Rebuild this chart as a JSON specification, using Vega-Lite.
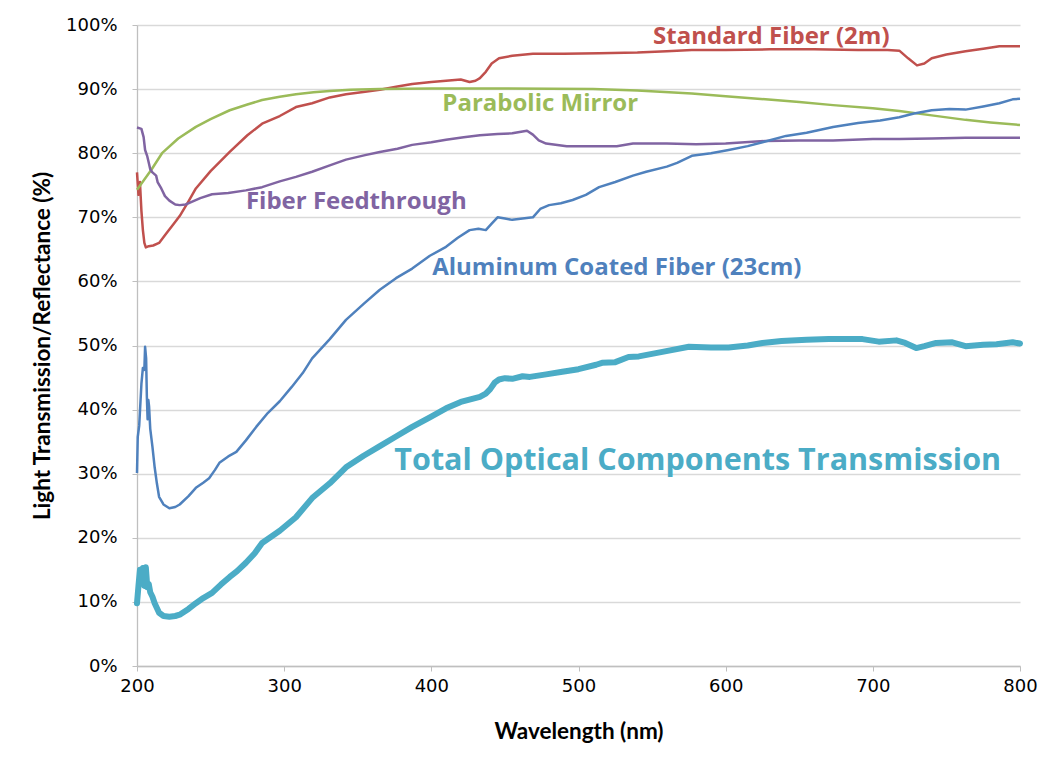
{
  "$schema": "https://vega.github.io/schema/vega-lite/v6.json",
  "width": 883,
  "height": 641,
  "autosize": "none",
  "padding": {"left": 137, "top": 25, "right": 30, "bottom": 99},
  "background": "white",
  "config": {
    "view": {"stroke": null},
    "axis": {
      "labelFont": "DejaVu Sans",
      "labelFontSize": 18,
      "labelColor": "#000000",
      "labelFlush": false,
      "domainColor": "#BFBFBF",
      "tickColor": "#BFBFBF",
      "gridColor": "#D9D9D9",
      "gridWidth": 1.3,
      "domainWidth": 1.3,
      "tickSize": 5,
      "titleFont": "Lato",
      "titleFontWeight": "bold",
      "titleFontSize": 22.5,
      "titleColor": "#000000"
    }
  },
  "datasets": {
    "curves": [
      {"series": "Standard Fiber (2m)", "nm": 200, "pct": 77.0},
      {"series": "Standard Fiber (2m)", "nm": 201, "pct": 73.5},
      {"series": "Standard Fiber (2m)", "nm": 202, "pct": 75.5},
      {"series": "Standard Fiber (2m)", "nm": 203, "pct": 71.0},
      {"series": "Standard Fiber (2m)", "nm": 204, "pct": 68.0},
      {"series": "Standard Fiber (2m)", "nm": 205, "pct": 66.0},
      {"series": "Standard Fiber (2m)", "nm": 206, "pct": 65.3},
      {"series": "Standard Fiber (2m)", "nm": 208, "pct": 65.5},
      {"series": "Standard Fiber (2m)", "nm": 211, "pct": 65.6},
      {"series": "Standard Fiber (2m)", "nm": 215, "pct": 66.0},
      {"series": "Standard Fiber (2m)", "nm": 220, "pct": 67.5},
      {"series": "Standard Fiber (2m)", "nm": 225, "pct": 69.0},
      {"series": "Standard Fiber (2m)", "nm": 229, "pct": 70.2},
      {"series": "Standard Fiber (2m)", "nm": 235, "pct": 72.5},
      {"series": "Standard Fiber (2m)", "nm": 240, "pct": 74.5},
      {"series": "Standard Fiber (2m)", "nm": 250, "pct": 77.2},
      {"series": "Standard Fiber (2m)", "nm": 263, "pct": 80.2},
      {"series": "Standard Fiber (2m)", "nm": 275, "pct": 82.8},
      {"series": "Standard Fiber (2m)", "nm": 285, "pct": 84.6},
      {"series": "Standard Fiber (2m)", "nm": 297, "pct": 85.8},
      {"series": "Standard Fiber (2m)", "nm": 308, "pct": 87.2},
      {"series": "Standard Fiber (2m)", "nm": 319, "pct": 87.8},
      {"series": "Standard Fiber (2m)", "nm": 331, "pct": 88.7},
      {"series": "Standard Fiber (2m)", "nm": 342, "pct": 89.2},
      {"series": "Standard Fiber (2m)", "nm": 355, "pct": 89.6},
      {"series": "Standard Fiber (2m)", "nm": 365, "pct": 89.9},
      {"series": "Standard Fiber (2m)", "nm": 377, "pct": 90.4},
      {"series": "Standard Fiber (2m)", "nm": 387, "pct": 90.8},
      {"series": "Standard Fiber (2m)", "nm": 400, "pct": 91.1},
      {"series": "Standard Fiber (2m)", "nm": 410, "pct": 91.3},
      {"series": "Standard Fiber (2m)", "nm": 420, "pct": 91.5},
      {"series": "Standard Fiber (2m)", "nm": 426, "pct": 91.1},
      {"series": "Standard Fiber (2m)", "nm": 430, "pct": 91.3},
      {"series": "Standard Fiber (2m)", "nm": 433, "pct": 91.7},
      {"series": "Standard Fiber (2m)", "nm": 437, "pct": 92.7},
      {"series": "Standard Fiber (2m)", "nm": 441, "pct": 94.0},
      {"series": "Standard Fiber (2m)", "nm": 446, "pct": 94.8},
      {"series": "Standard Fiber (2m)", "nm": 455, "pct": 95.2},
      {"series": "Standard Fiber (2m)", "nm": 469, "pct": 95.5},
      {"series": "Standard Fiber (2m)", "nm": 490, "pct": 95.5},
      {"series": "Standard Fiber (2m)", "nm": 514, "pct": 95.6},
      {"series": "Standard Fiber (2m)", "nm": 540, "pct": 95.7},
      {"series": "Standard Fiber (2m)", "nm": 560, "pct": 95.9},
      {"series": "Standard Fiber (2m)", "nm": 577, "pct": 96.1},
      {"series": "Standard Fiber (2m)", "nm": 600, "pct": 96.1},
      {"series": "Standard Fiber (2m)", "nm": 630, "pct": 96.2},
      {"series": "Standard Fiber (2m)", "nm": 660, "pct": 96.2},
      {"series": "Standard Fiber (2m)", "nm": 690, "pct": 96.1},
      {"series": "Standard Fiber (2m)", "nm": 710, "pct": 96.1},
      {"series": "Standard Fiber (2m)", "nm": 718, "pct": 96.0},
      {"series": "Standard Fiber (2m)", "nm": 724, "pct": 94.8},
      {"series": "Standard Fiber (2m)", "nm": 730, "pct": 93.7},
      {"series": "Standard Fiber (2m)", "nm": 735, "pct": 94.0},
      {"series": "Standard Fiber (2m)", "nm": 740, "pct": 94.8},
      {"series": "Standard Fiber (2m)", "nm": 750, "pct": 95.4},
      {"series": "Standard Fiber (2m)", "nm": 763, "pct": 95.9},
      {"series": "Standard Fiber (2m)", "nm": 775, "pct": 96.3},
      {"series": "Standard Fiber (2m)", "nm": 786, "pct": 96.7},
      {"series": "Standard Fiber (2m)", "nm": 800, "pct": 96.7},

      {"series": "Parabolic Mirror", "nm": 200, "pct": 74.3},
      {"series": "Parabolic Mirror", "nm": 210, "pct": 77.5},
      {"series": "Parabolic Mirror", "nm": 217, "pct": 80.0},
      {"series": "Parabolic Mirror", "nm": 228, "pct": 82.3},
      {"series": "Parabolic Mirror", "nm": 240, "pct": 84.1},
      {"series": "Parabolic Mirror", "nm": 250, "pct": 85.3},
      {"series": "Parabolic Mirror", "nm": 263, "pct": 86.7},
      {"series": "Parabolic Mirror", "nm": 275, "pct": 87.6},
      {"series": "Parabolic Mirror", "nm": 285, "pct": 88.3},
      {"series": "Parabolic Mirror", "nm": 297, "pct": 88.8},
      {"series": "Parabolic Mirror", "nm": 308, "pct": 89.2},
      {"series": "Parabolic Mirror", "nm": 320, "pct": 89.5},
      {"series": "Parabolic Mirror", "nm": 331, "pct": 89.7},
      {"series": "Parabolic Mirror", "nm": 345, "pct": 89.9},
      {"series": "Parabolic Mirror", "nm": 365, "pct": 90.0},
      {"series": "Parabolic Mirror", "nm": 400, "pct": 90.1},
      {"series": "Parabolic Mirror", "nm": 450, "pct": 90.1},
      {"series": "Parabolic Mirror", "nm": 510, "pct": 90.0},
      {"series": "Parabolic Mirror", "nm": 540, "pct": 89.8},
      {"series": "Parabolic Mirror", "nm": 577, "pct": 89.3},
      {"series": "Parabolic Mirror", "nm": 600, "pct": 88.9},
      {"series": "Parabolic Mirror", "nm": 627, "pct": 88.4},
      {"series": "Parabolic Mirror", "nm": 650, "pct": 88.0},
      {"series": "Parabolic Mirror", "nm": 673, "pct": 87.5},
      {"series": "Parabolic Mirror", "nm": 700, "pct": 87.0},
      {"series": "Parabolic Mirror", "nm": 718, "pct": 86.6},
      {"series": "Parabolic Mirror", "nm": 740, "pct": 85.9},
      {"series": "Parabolic Mirror", "nm": 763, "pct": 85.2},
      {"series": "Parabolic Mirror", "nm": 780, "pct": 84.8},
      {"series": "Parabolic Mirror", "nm": 800, "pct": 84.4},

      {"series": "Fiber Feedthrough", "nm": 200, "pct": 84.0},
      {"series": "Fiber Feedthrough", "nm": 203, "pct": 83.8},
      {"series": "Fiber Feedthrough", "nm": 204.5, "pct": 82.5},
      {"series": "Fiber Feedthrough", "nm": 205.5, "pct": 80.5},
      {"series": "Fiber Feedthrough", "nm": 207, "pct": 79.5},
      {"series": "Fiber Feedthrough", "nm": 208, "pct": 78.5},
      {"series": "Fiber Feedthrough", "nm": 209, "pct": 77.5},
      {"series": "Fiber Feedthrough", "nm": 210.5, "pct": 77.0},
      {"series": "Fiber Feedthrough", "nm": 213, "pct": 76.5},
      {"series": "Fiber Feedthrough", "nm": 214, "pct": 75.5},
      {"series": "Fiber Feedthrough", "nm": 216.5, "pct": 74.5},
      {"series": "Fiber Feedthrough", "nm": 219, "pct": 73.3},
      {"series": "Fiber Feedthrough", "nm": 222, "pct": 72.6},
      {"series": "Fiber Feedthrough", "nm": 226, "pct": 72.0},
      {"series": "Fiber Feedthrough", "nm": 229, "pct": 71.9},
      {"series": "Fiber Feedthrough", "nm": 233, "pct": 72.0},
      {"series": "Fiber Feedthrough", "nm": 236, "pct": 72.3},
      {"series": "Fiber Feedthrough", "nm": 243, "pct": 73.0},
      {"series": "Fiber Feedthrough", "nm": 251, "pct": 73.6},
      {"series": "Fiber Feedthrough", "nm": 262, "pct": 73.8},
      {"series": "Fiber Feedthrough", "nm": 274, "pct": 74.2},
      {"series": "Fiber Feedthrough", "nm": 285, "pct": 74.7},
      {"series": "Fiber Feedthrough", "nm": 297, "pct": 75.6},
      {"series": "Fiber Feedthrough", "nm": 308, "pct": 76.3},
      {"series": "Fiber Feedthrough", "nm": 319, "pct": 77.1},
      {"series": "Fiber Feedthrough", "nm": 331, "pct": 78.1},
      {"series": "Fiber Feedthrough", "nm": 342, "pct": 79.0},
      {"series": "Fiber Feedthrough", "nm": 355, "pct": 79.7},
      {"series": "Fiber Feedthrough", "nm": 365, "pct": 80.2},
      {"series": "Fiber Feedthrough", "nm": 377, "pct": 80.7},
      {"series": "Fiber Feedthrough", "nm": 387, "pct": 81.3},
      {"series": "Fiber Feedthrough", "nm": 400, "pct": 81.7},
      {"series": "Fiber Feedthrough", "nm": 410, "pct": 82.1},
      {"series": "Fiber Feedthrough", "nm": 422, "pct": 82.5},
      {"series": "Fiber Feedthrough", "nm": 433, "pct": 82.8},
      {"series": "Fiber Feedthrough", "nm": 445, "pct": 83.0},
      {"series": "Fiber Feedthrough", "nm": 455, "pct": 83.1},
      {"series": "Fiber Feedthrough", "nm": 462, "pct": 83.4},
      {"series": "Fiber Feedthrough", "nm": 465, "pct": 83.5},
      {"series": "Fiber Feedthrough", "nm": 469, "pct": 82.9},
      {"series": "Fiber Feedthrough", "nm": 473, "pct": 82.0},
      {"series": "Fiber Feedthrough", "nm": 478, "pct": 81.5},
      {"series": "Fiber Feedthrough", "nm": 492, "pct": 81.1},
      {"series": "Fiber Feedthrough", "nm": 510, "pct": 81.1},
      {"series": "Fiber Feedthrough", "nm": 526, "pct": 81.1},
      {"series": "Fiber Feedthrough", "nm": 537, "pct": 81.5},
      {"series": "Fiber Feedthrough", "nm": 560, "pct": 81.5},
      {"series": "Fiber Feedthrough", "nm": 580, "pct": 81.4},
      {"series": "Fiber Feedthrough", "nm": 600, "pct": 81.5},
      {"series": "Fiber Feedthrough", "nm": 627, "pct": 81.9},
      {"series": "Fiber Feedthrough", "nm": 650, "pct": 82.0},
      {"series": "Fiber Feedthrough", "nm": 673, "pct": 82.0},
      {"series": "Fiber Feedthrough", "nm": 700, "pct": 82.2},
      {"series": "Fiber Feedthrough", "nm": 718, "pct": 82.2},
      {"series": "Fiber Feedthrough", "nm": 740, "pct": 82.3},
      {"series": "Fiber Feedthrough", "nm": 763, "pct": 82.4},
      {"series": "Fiber Feedthrough", "nm": 785, "pct": 82.4},
      {"series": "Fiber Feedthrough", "nm": 800, "pct": 82.4},

      {"series": "Aluminum Coated Fiber (23cm)", "nm": 200, "pct": 30.1},
      {"series": "Aluminum Coated Fiber (23cm)", "nm": 200.5, "pct": 35.7},
      {"series": "Aluminum Coated Fiber (23cm)", "nm": 201.5, "pct": 37.5},
      {"series": "Aluminum Coated Fiber (23cm)", "nm": 203, "pct": 44.0},
      {"series": "Aluminum Coated Fiber (23cm)", "nm": 204, "pct": 46.5},
      {"series": "Aluminum Coated Fiber (23cm)", "nm": 205, "pct": 46.2},
      {"series": "Aluminum Coated Fiber (23cm)", "nm": 205.5, "pct": 49.8},
      {"series": "Aluminum Coated Fiber (23cm)", "nm": 206.2, "pct": 48.0},
      {"series": "Aluminum Coated Fiber (23cm)", "nm": 206.7, "pct": 42.0},
      {"series": "Aluminum Coated Fiber (23cm)", "nm": 207.2, "pct": 38.5},
      {"series": "Aluminum Coated Fiber (23cm)", "nm": 207.7, "pct": 41.5},
      {"series": "Aluminum Coated Fiber (23cm)", "nm": 208.2, "pct": 40.5},
      {"series": "Aluminum Coated Fiber (23cm)", "nm": 209, "pct": 37.0},
      {"series": "Aluminum Coated Fiber (23cm)", "nm": 210.5, "pct": 34.2},
      {"series": "Aluminum Coated Fiber (23cm)", "nm": 212, "pct": 31.0},
      {"series": "Aluminum Coated Fiber (23cm)", "nm": 213.5, "pct": 28.5},
      {"series": "Aluminum Coated Fiber (23cm)", "nm": 215, "pct": 26.4},
      {"series": "Aluminum Coated Fiber (23cm)", "nm": 218, "pct": 25.2},
      {"series": "Aluminum Coated Fiber (23cm)", "nm": 222, "pct": 24.6},
      {"series": "Aluminum Coated Fiber (23cm)", "nm": 226, "pct": 24.8},
      {"series": "Aluminum Coated Fiber (23cm)", "nm": 229, "pct": 25.2},
      {"series": "Aluminum Coated Fiber (23cm)", "nm": 235, "pct": 26.5},
      {"series": "Aluminum Coated Fiber (23cm)", "nm": 240, "pct": 27.8},
      {"series": "Aluminum Coated Fiber (23cm)", "nm": 245, "pct": 28.6},
      {"series": "Aluminum Coated Fiber (23cm)", "nm": 249, "pct": 29.3},
      {"series": "Aluminum Coated Fiber (23cm)", "nm": 253, "pct": 30.6},
      {"series": "Aluminum Coated Fiber (23cm)", "nm": 256, "pct": 31.7},
      {"series": "Aluminum Coated Fiber (23cm)", "nm": 262, "pct": 32.7},
      {"series": "Aluminum Coated Fiber (23cm)", "nm": 267.5, "pct": 33.4},
      {"series": "Aluminum Coated Fiber (23cm)", "nm": 274, "pct": 35.2},
      {"series": "Aluminum Coated Fiber (23cm)", "nm": 281, "pct": 37.3},
      {"series": "Aluminum Coated Fiber (23cm)", "nm": 289, "pct": 39.5},
      {"series": "Aluminum Coated Fiber (23cm)", "nm": 297, "pct": 41.3},
      {"series": "Aluminum Coated Fiber (23cm)", "nm": 305, "pct": 43.5},
      {"series": "Aluminum Coated Fiber (23cm)", "nm": 312.6, "pct": 45.7},
      {"series": "Aluminum Coated Fiber (23cm)", "nm": 319, "pct": 48.0},
      {"series": "Aluminum Coated Fiber (23cm)", "nm": 331, "pct": 51.0},
      {"series": "Aluminum Coated Fiber (23cm)", "nm": 342, "pct": 54.0},
      {"series": "Aluminum Coated Fiber (23cm)", "nm": 354, "pct": 56.5},
      {"series": "Aluminum Coated Fiber (23cm)", "nm": 365, "pct": 58.7},
      {"series": "Aluminum Coated Fiber (23cm)", "nm": 376, "pct": 60.5},
      {"series": "Aluminum Coated Fiber (23cm)", "nm": 387, "pct": 62.0},
      {"series": "Aluminum Coated Fiber (23cm)", "nm": 399, "pct": 64.0},
      {"series": "Aluminum Coated Fiber (23cm)", "nm": 410, "pct": 65.4},
      {"series": "Aluminum Coated Fiber (23cm)", "nm": 418, "pct": 66.8},
      {"series": "Aluminum Coated Fiber (23cm)", "nm": 426, "pct": 68.0},
      {"series": "Aluminum Coated Fiber (23cm)", "nm": 432, "pct": 68.2},
      {"series": "Aluminum Coated Fiber (23cm)", "nm": 437, "pct": 68.0},
      {"series": "Aluminum Coated Fiber (23cm)", "nm": 441, "pct": 69.0},
      {"series": "Aluminum Coated Fiber (23cm)", "nm": 445, "pct": 70.0},
      {"series": "Aluminum Coated Fiber (23cm)", "nm": 450, "pct": 69.8},
      {"series": "Aluminum Coated Fiber (23cm)", "nm": 455, "pct": 69.6},
      {"series": "Aluminum Coated Fiber (23cm)", "nm": 462, "pct": 69.8},
      {"series": "Aluminum Coated Fiber (23cm)", "nm": 469, "pct": 70.0},
      {"series": "Aluminum Coated Fiber (23cm)", "nm": 474, "pct": 71.3},
      {"series": "Aluminum Coated Fiber (23cm)", "nm": 480, "pct": 71.9},
      {"series": "Aluminum Coated Fiber (23cm)", "nm": 488, "pct": 72.2},
      {"series": "Aluminum Coated Fiber (23cm)", "nm": 496, "pct": 72.7},
      {"series": "Aluminum Coated Fiber (23cm)", "nm": 505, "pct": 73.5},
      {"series": "Aluminum Coated Fiber (23cm)", "nm": 514, "pct": 74.7},
      {"series": "Aluminum Coated Fiber (23cm)", "nm": 525, "pct": 75.5},
      {"series": "Aluminum Coated Fiber (23cm)", "nm": 537, "pct": 76.5},
      {"series": "Aluminum Coated Fiber (23cm)", "nm": 546, "pct": 77.1},
      {"series": "Aluminum Coated Fiber (23cm)", "nm": 560, "pct": 77.9},
      {"series": "Aluminum Coated Fiber (23cm)", "nm": 567, "pct": 78.5},
      {"series": "Aluminum Coated Fiber (23cm)", "nm": 577, "pct": 79.6},
      {"series": "Aluminum Coated Fiber (23cm)", "nm": 590, "pct": 80.0},
      {"series": "Aluminum Coated Fiber (23cm)", "nm": 602, "pct": 80.5},
      {"series": "Aluminum Coated Fiber (23cm)", "nm": 615, "pct": 81.1},
      {"series": "Aluminum Coated Fiber (23cm)", "nm": 625, "pct": 81.7},
      {"series": "Aluminum Coated Fiber (23cm)", "nm": 641, "pct": 82.7},
      {"series": "Aluminum Coated Fiber (23cm)", "nm": 655, "pct": 83.2},
      {"series": "Aluminum Coated Fiber (23cm)", "nm": 673, "pct": 84.1},
      {"series": "Aluminum Coated Fiber (23cm)", "nm": 690, "pct": 84.7},
      {"series": "Aluminum Coated Fiber (23cm)", "nm": 705, "pct": 85.1},
      {"series": "Aluminum Coated Fiber (23cm)", "nm": 718, "pct": 85.6},
      {"series": "Aluminum Coated Fiber (23cm)", "nm": 728, "pct": 86.2},
      {"series": "Aluminum Coated Fiber (23cm)", "nm": 740, "pct": 86.7},
      {"series": "Aluminum Coated Fiber (23cm)", "nm": 752, "pct": 86.9},
      {"series": "Aluminum Coated Fiber (23cm)", "nm": 763, "pct": 86.8},
      {"series": "Aluminum Coated Fiber (23cm)", "nm": 775, "pct": 87.3},
      {"series": "Aluminum Coated Fiber (23cm)", "nm": 786, "pct": 87.8},
      {"series": "Aluminum Coated Fiber (23cm)", "nm": 795, "pct": 88.4},
      {"series": "Aluminum Coated Fiber (23cm)", "nm": 800, "pct": 88.5},

      {"series": "Total", "nm": 200, "pct": 9.8},
      {"series": "Total", "nm": 201, "pct": 12.5},
      {"series": "Total", "nm": 202, "pct": 15.0},
      {"series": "Total", "nm": 203, "pct": 13.0},
      {"series": "Total", "nm": 204, "pct": 15.3},
      {"series": "Total", "nm": 205, "pct": 12.5},
      {"series": "Total", "nm": 206, "pct": 15.4},
      {"series": "Total", "nm": 207, "pct": 12.3},
      {"series": "Total", "nm": 208, "pct": 12.8},
      {"series": "Total", "nm": 209, "pct": 11.5},
      {"series": "Total", "nm": 210.5, "pct": 10.8},
      {"series": "Total", "nm": 212, "pct": 9.8},
      {"series": "Total", "nm": 215, "pct": 8.3},
      {"series": "Total", "nm": 218, "pct": 7.8},
      {"series": "Total", "nm": 222, "pct": 7.7},
      {"series": "Total", "nm": 226, "pct": 7.8},
      {"series": "Total", "nm": 229, "pct": 8.0},
      {"series": "Total", "nm": 235, "pct": 8.9},
      {"series": "Total", "nm": 240, "pct": 9.8},
      {"series": "Total", "nm": 245, "pct": 10.6},
      {"series": "Total", "nm": 251, "pct": 11.4},
      {"series": "Total", "nm": 257, "pct": 12.7},
      {"series": "Total", "nm": 263, "pct": 13.9},
      {"series": "Total", "nm": 268, "pct": 14.8},
      {"series": "Total", "nm": 274, "pct": 16.1},
      {"series": "Total", "nm": 280, "pct": 17.6},
      {"series": "Total", "nm": 285, "pct": 19.2},
      {"series": "Total", "nm": 297, "pct": 21.1},
      {"series": "Total", "nm": 308, "pct": 23.2},
      {"series": "Total", "nm": 319, "pct": 26.2},
      {"series": "Total", "nm": 331, "pct": 28.5},
      {"series": "Total", "nm": 342, "pct": 31.0},
      {"series": "Total", "nm": 354, "pct": 32.8},
      {"series": "Total", "nm": 365, "pct": 34.3},
      {"series": "Total", "nm": 376, "pct": 35.8},
      {"series": "Total", "nm": 387, "pct": 37.3},
      {"series": "Total", "nm": 399, "pct": 38.8},
      {"series": "Total", "nm": 410, "pct": 40.2},
      {"series": "Total", "nm": 420, "pct": 41.2},
      {"series": "Total", "nm": 433, "pct": 42.0},
      {"series": "Total", "nm": 437, "pct": 42.5},
      {"series": "Total", "nm": 440, "pct": 43.2},
      {"series": "Total", "nm": 443, "pct": 44.2},
      {"series": "Total", "nm": 446, "pct": 44.7},
      {"series": "Total", "nm": 450, "pct": 44.9},
      {"series": "Total", "nm": 455, "pct": 44.8},
      {"series": "Total", "nm": 462, "pct": 45.2},
      {"series": "Total", "nm": 467, "pct": 45.1},
      {"series": "Total", "nm": 478, "pct": 45.5},
      {"series": "Total", "nm": 489, "pct": 45.9},
      {"series": "Total", "nm": 500, "pct": 46.3},
      {"series": "Total", "nm": 512, "pct": 47.0},
      {"series": "Total", "nm": 516, "pct": 47.3},
      {"series": "Total", "nm": 525, "pct": 47.4},
      {"series": "Total", "nm": 534, "pct": 48.2},
      {"series": "Total", "nm": 541, "pct": 48.3},
      {"series": "Total", "nm": 557, "pct": 49.0},
      {"series": "Total", "nm": 575, "pct": 49.8},
      {"series": "Total", "nm": 590, "pct": 49.7},
      {"series": "Total", "nm": 602, "pct": 49.7},
      {"series": "Total", "nm": 615, "pct": 50.0},
      {"series": "Total", "nm": 625, "pct": 50.4},
      {"series": "Total", "nm": 638, "pct": 50.7},
      {"series": "Total", "nm": 655, "pct": 50.9},
      {"series": "Total", "nm": 670, "pct": 51.0},
      {"series": "Total", "nm": 693, "pct": 51.0},
      {"series": "Total", "nm": 704, "pct": 50.6},
      {"series": "Total", "nm": 716, "pct": 50.8},
      {"series": "Total", "nm": 722, "pct": 50.4},
      {"series": "Total", "nm": 729.5, "pct": 49.6},
      {"series": "Total", "nm": 735, "pct": 49.9},
      {"series": "Total", "nm": 743, "pct": 50.4},
      {"series": "Total", "nm": 754, "pct": 50.5},
      {"series": "Total", "nm": 763, "pct": 49.9},
      {"series": "Total", "nm": 775, "pct": 50.1},
      {"series": "Total", "nm": 784, "pct": 50.2},
      {"series": "Total", "nm": 795, "pct": 50.5},
      {"series": "Total", "nm": 800, "pct": 50.3}
    ],
    "labels": [
      {"series": "Standard Fiber (2m)", "text": "Standard Fiber (2m)", "nm": 631, "pct": 98.1, "big": false},
      {"series": "Parabolic Mirror", "text": "Parabolic Mirror", "nm": 474, "pct": 87.7, "big": false},
      {"series": "Fiber Feedthrough", "text": "Fiber Feedthrough", "nm": 349, "pct": 72.4, "big": false},
      {"series": "Aluminum Coated Fiber (23cm)", "text": "Aluminum Coated Fiber (23cm)", "nm": 526, "pct": 62.1, "big": false},
      {"series": "Total", "text": "Total Optical Components Transmission", "nm": 581, "pct": 32.0, "big": true}
    ]
  },
  "encoding": {
    "x": {
      "field": "nm",
      "type": "quantitative",
      "scale": {"domain": [200, 800], "nice": false, "zero": false},
      "axis": {
        "values": [200, 300, 400, 500, 600, 700, 800],
        "grid": false,
        "title": "Wavelength (nm)",
        "labelPadding": 6,
        "titleX": 441.5,
        "titleY": 65,
        "titleAlign": "center",
        "titleBaseline": "middle"
      }
    },
    "y": {
      "field": "pct",
      "type": "quantitative",
      "scale": {"domain": [0, 100], "nice": false},
      "axis": {
        "values": [0, 10, 20, 30, 40, 50, 60, 70, 80, 90, 100],
        "labelExpr": "datum.value + '%'",
        "grid": true,
        "title": "Light Transmission/Reflectance  (%)",
        "labelPadding": 15,
        "titleX": -95,
        "titleY": 320.5,
        "titleAngle": -90,
        "titleAlign": "center",
        "titleBaseline": "middle"
      }
    },
    "color": {
      "field": "series",
      "type": "nominal",
      "legend": null,
      "scale": {
        "domain": ["Standard Fiber (2m)", "Parabolic Mirror", "Fiber Feedthrough", "Aluminum Coated Fiber (23cm)", "Total"],
        "range": ["#C0504D", "#9BBB59", "#8064A2", "#4F81BD", "#4BACC6"]
      }
    }
  },
  "layer": [
    {
      "data": {"name": "curves"},
      "transform": [{"filter": "datum.series !== 'Total'"}],
      "mark": {"type": "line", "strokeWidth": 2.5, "strokeJoin": "round"}
    },
    {
      "data": {"name": "curves"},
      "transform": [{"filter": "datum.series === 'Total'"}],
      "mark": {"type": "line", "strokeWidth": 6, "strokeJoin": "round", "strokeCap": "round"}
    },
    {
      "data": {"name": "labels"},
      "mark": {"type": "text", "font": "Open Sans", "fontWeight": "bold", "align": "center", "baseline": "middle"},
      "encoding": {
        "text": {"field": "text"},
        "size": {"field": "big", "type": "nominal", "legend": null, "scale": {"domain": [false, true], "range": [24, 30.5]}}
      }
    }
  ]
}
